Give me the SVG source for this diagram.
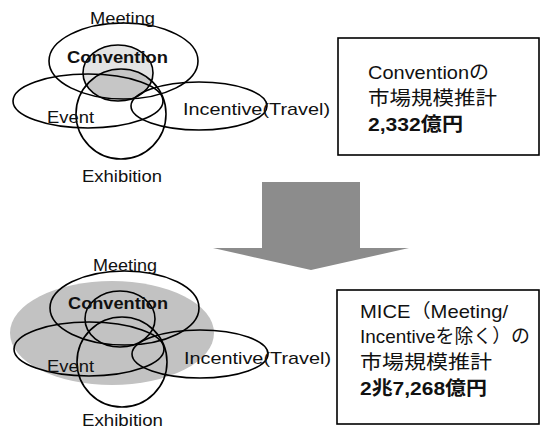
<svg xmlns="http://www.w3.org/2000/svg" width="541" height="430" viewBox="0 0 541 430">
<style>
.ln{fill:none;stroke:#000;stroke-width:1.6}
.t{font-family:"Liberation Sans","Noto Sans CJK JP",sans-serif;font-size:17px;fill:#111}
.b{font-weight:bold;font-size:17px}
.bx{font-family:"Liberation Sans","Noto Sans CJK JP",sans-serif;font-size:19px;fill:#111}
.box{fill:#fff;stroke:#000;stroke-width:1.6}
</style>
<defs>
<clipPath id="exClip"><circle cx="121" cy="114" r="45"/></clipPath>
</defs>
<rect width="541" height="430" fill="#fff"/>

<g id="venn-top">
  <g id="convention-shade">
    <ellipse cx="118" cy="73" rx="35" ry="28" fill="#e4e4e4"/>
    <ellipse cx="118" cy="73" rx="35" ry="28" fill="#c6c6c6" clip-path="url(#exClip)"/>
  </g>
  <g id="meeting"><ellipse class="ln" cx="123.5" cy="61" rx="74.5" ry="38"/></g>
  <g id="convention"><ellipse class="ln" cx="118" cy="73" rx="35" ry="28"/></g>
  <g id="event"><ellipse class="ln" cx="88" cy="101" rx="75" ry="27"/></g>
  <g id="incentive"><ellipse class="ln" cx="199" cy="106" rx="68" ry="24"/></g>
  <g id="exhibition"><circle class="ln" cx="121" cy="114" r="45"/></g>
  <text class="t" x="90" y="24" textLength="65" lengthAdjust="spacingAndGlyphs">Meeting</text>
  <text class="t b" x="67" y="63" textLength="101" lengthAdjust="spacingAndGlyphs">Convention</text>
  <text class="t" x="47" y="123" textLength="47" lengthAdjust="spacingAndGlyphs">Event</text>
  <text class="t" x="183" y="115" textLength="147" lengthAdjust="spacingAndGlyphs">Incentive(Travel)</text>
  <text class="t" x="82" y="182" textLength="80" lengthAdjust="spacingAndGlyphs">Exhibition</text>
</g>

<g id="box-top">
  <rect class="box" x="338" y="38" width="201" height="117"/>
  <text class="bx" x="368" y="79" textLength="121" lengthAdjust="spacingAndGlyphs">Conventionの</text>
  <text class="bx" x="368" y="105" textLength="129" lengthAdjust="spacingAndGlyphs">市場規模推計</text>
  <text class="bx" x="368" y="131" font-weight="bold" textLength="95" lengthAdjust="spacingAndGlyphs">2,332億円</text>
</g>

<g id="connectors">
  <polygon id="down-arrow" points="262,182 360,182 360,248 409,248 311,270 213,248 262,248" fill="#8c8c8c"/>
</g>

<g id="venn-bottom" transform="translate(1,247)">
  <g id="blob"><ellipse cx="111" cy="86" rx="102" ry="52" fill="#c2c2c2"/></g>
  <g id="meeting-2"><ellipse class="ln" cx="123.5" cy="61" rx="74.5" ry="37"/></g>
  <g id="convention-2"><ellipse class="ln" cx="119" cy="72" rx="35" ry="28"/></g>
  <g id="event-2"><ellipse class="ln" cx="88" cy="102" rx="75" ry="27"/></g>
  <g id="incentive-2"><ellipse class="ln" cx="199" cy="107" rx="68" ry="24"/></g>
  <g id="exhibition-2"><circle class="ln" cx="121" cy="115" r="45"/></g>
  <text class="t" x="92" y="24" textLength="64" lengthAdjust="spacingAndGlyphs">Meeting</text>
  <text class="t b" x="67" y="62" textLength="100" lengthAdjust="spacingAndGlyphs">Convention</text>
  <text class="t" x="46" y="125" textLength="47" lengthAdjust="spacingAndGlyphs">Event</text>
  <text class="t" x="183" y="117" textLength="147" lengthAdjust="spacingAndGlyphs">Incentive(Travel)</text>
  <text class="t" x="81" y="179" font-size="16" textLength="81" lengthAdjust="spacingAndGlyphs">Exhibition</text>
</g>

<g id="box-bottom">
  <rect class="box" x="337" y="290" width="202" height="134"/>
  <text class="bx" x="360" y="318" textLength="148" lengthAdjust="spacingAndGlyphs">MICE（Meeting/</text>
  <text class="bx" x="360" y="343" textLength="170" lengthAdjust="spacingAndGlyphs">Incentiveを除く）の</text>
  <text class="bx" x="360" y="369" textLength="132" lengthAdjust="spacingAndGlyphs">市場規模推計</text>
  <text class="bx" x="360" y="395" font-weight="bold" textLength="127" lengthAdjust="spacingAndGlyphs">2兆7,268億円</text>
</g>
</svg>
